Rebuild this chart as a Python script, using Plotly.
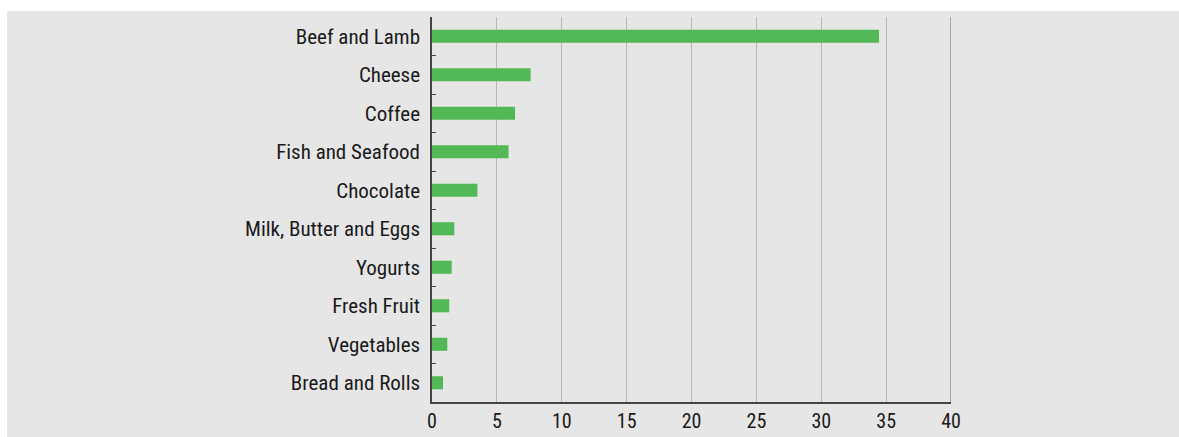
import plotly.graph_objects as go

categories = ["Beef and Lamb", "Cheese", "Coffee", "Fish and Seafood", "Chocolate",
              "Milk, Butter and Eggs", "Yogurts", "Fresh Fruit", "Vegetables", "Bread and Rolls"]
values = [34.45, 7.6, 6.4, 5.9, 3.5, 1.72, 1.52, 1.33, 1.18, 0.85]
x_ticks = [0, 5, 10, 15, 20, 25, 30, 35, 40]

W, H = 1179, 437
L, R, T, B = 432, 1179 - 951, 17, 35
pw, ph = W - L - R, H - T - B

font = "Liberation Sans Narrow, Arial Narrow, Roboto Condensed, Liberation Sans, sans-serif"

fig = go.Figure(go.Bar(
    y=categories, x=values, orientation="h",
    marker=dict(color="#52b956", line=dict(width=0)),
    width=0.34,
))

fig.update_layout(
    width=W, height=H, autosize=False,
    margin=dict(l=L, r=R, t=T, b=B, pad=0, autoexpand=False),
    paper_bgcolor="#e6e6e6", plot_bgcolor="#e6e6e6",
    font=dict(family=font, size=21, color="#1a1a1a"),
    showlegend=False,
    xaxis=dict(range=[0, 40], tickvals=x_ticks, showgrid=True, gridcolor="#b8b8b8",
               gridwidth=1, zeroline=False, showline=True, linecolor="#444", linewidth=1.5,
               ticks="", ticklabelstandoff=0, tickfont=dict(size=20), automargin=False),
    yaxis=dict(categoryorder="array", categoryarray=categories[::-1], autorange=False,
               range=[-0.5, 9.5], showline=True, linecolor="#444", linewidth=1.5,
               ticks="inside", tickson="boundaries", ticklen=4, tickcolor="#444",
               showgrid=False, ticklabelstandoff=6, tickfont=dict(size=21), automargin=False),
    shapes=[
        dict(type="rect", xref="paper", yref="paper",
             x0=-L / pw - 0.01, x1=1 + R / pw + 0.01,
             y0=1 + (T - 11) / ph, y1=1 + T / ph + 0.01,
             fillcolor="white", line=dict(width=0), layer="above"),
        dict(type="rect", xref="paper", yref="paper",
             x0=-L / pw - 0.01, x1=-(L - 7) / pw,
             y0=-B / ph - 0.01, y1=1 + T / ph + 0.01,
             fillcolor="white", line=dict(width=0), layer="above"),
        dict(type="line", xref="x", yref="paper", x0=40, x1=40, y0=0, y1=1,
             line=dict(color="#666", width=1)),
    ],
)

fig.write_html(
    "out.html",
    config={"displayModeBar": False},
    post_script="document.body.style.margin='0';document.body.style.overflow='hidden';",
)
